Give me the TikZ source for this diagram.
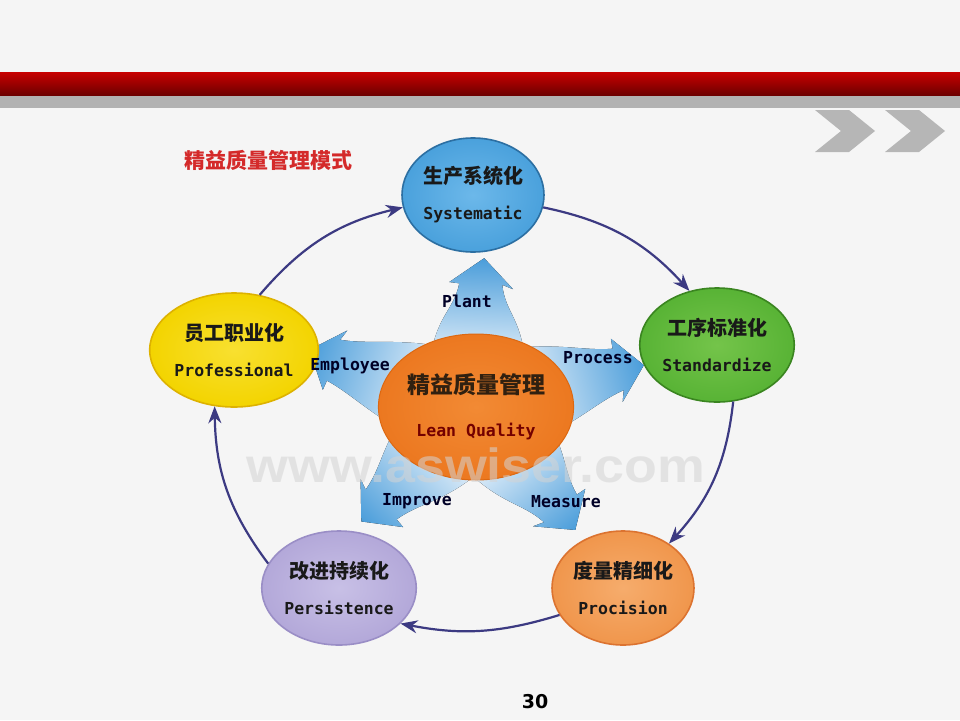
\documentclass[tikz,border=0pt]{standalone}
\usepackage{fontspec}
\usetikzlibrary{arrows.meta,shapes.geometric}
\newfontfamily\cjk{Noto Sans CJK SC}
\newfontfamily\monof{DejaVu Sans Mono}
\newfontfamily\wmfont{Liberation Sans}
\newfontfamily\numfont{DejaVu Sans}

\definecolor{slidebg}{HTML}{F5F5F5}
\definecolor{bandred}{HTML}{C80000}
\definecolor{banddark}{HTML}{6A0000}
\definecolor{bandgray}{HTML}{B2B2B2}
\definecolor{chevgray}{HTML}{B6B6B6}
\definecolor{titlered}{HTML}{D42A2A}
\definecolor{loopblue}{HTML}{3C3A82}
\definecolor{armblue}{HTML}{4A9DDA}
\definecolor{armpale}{HTML}{EEF5FC}
\definecolor{wmgray}{HTML}{D4D4D4}
% stage colours: inner, outer, rim
\definecolor{sysin}{HTML}{6CB8EA}\definecolor{sysout}{HTML}{4AA1DC}\definecolor{sysrim}{HTML}{2C6FA2}
\definecolor{stdin}{HTML}{74C44A}\definecolor{stdout}{HTML}{58B335}\definecolor{stdrim}{HTML}{3A8520}
\definecolor{prein}{HTML}{F6AC6C}\definecolor{preout}{HTML}{F0964C}\definecolor{prerim}{HTML}{DC7330}
\definecolor{perin}{HTML}{C8C0E6}\definecolor{perout}{HTML}{B3A8D9}\definecolor{perrim}{HTML}{9A8EC6}
\definecolor{yelin}{HTML}{F8E030}\definecolor{yelout}{HTML}{F3D400}\definecolor{yelrim}{HTML}{DDB200}
\definecolor{hubin}{HTML}{F28A34}\definecolor{hubout}{HTML}{EC7820}\definecolor{hubrim}{HTML}{DC6812}

% one fat blue arm of the star: direction, reach
\newcommand\leanarm[2]{%
  \begin{scope}[transform canvas={shift={(hubc)},rotate=#1}]
    \fill[left color=armpale,right color=armblue]
      (40,48) .. controls (90,44) and ({#2-55},26) .. ({#2-26},22) -- ({#2-30},33)
      -- (#2,3) -- ({#2-25},-31) -- ({#2-26},-21)
      .. controls ({#2-55},-26) and (90,-44) .. (40,-48) -- cycle;
  \end{scope}}

\begin{document}
\begin{tikzpicture}[x=1pt,y=-1pt,
  stage/.style={ellipse,line width=1.6pt,minimum width=142pt,minimum height=114pt,
    inner sep=0pt,align=center,text=black!90,font=\cjk\bfseries\fontsize{20}{36}\selectfont},
  armtext/.style={inner sep=1pt,text=black!85!blue,font=\monof\bfseries\fontsize{16.5}{20}\selectfont},
  loopline/.style={draw=loopblue,line width=2.2pt,-{Stealth[length=17pt,width=13pt]}}]
  \useasboundingbox (0,0) rectangle (960,720);
  \fill[slidebg] (0,0) rectangle (960,720);

  % header bands and chevrons
  \shade[top color=bandred,bottom color=banddark] (0,72) rectangle (960,96);
  \fill[bandgray] (0,96) rectangle (960,108);
  \foreach \cx in {815,885}
    \fill[chevgray] (\cx,110) -- (\cx+34,110) -- (\cx+60,131) -- (\cx+34,152)
      -- (\cx,152) -- (\cx+26,131) -- cycle;

  \node[text=titlered,font=\cjk\bfseries\fontsize{21}{24}\selectfont] (ttl) at (268,160) {精益质量管理模式};

  % blue star
  \coordinate (hubc) at (476,407);
  \leanarm{88}{149}
  \leanarm{15}{173}
  \leanarm{-50}{158}
  \leanarm{-134}{162}
  \leanarm{162}{176}

  \node[ellipse,minimum width=190pt,minimum height=146pt,inner sep=0pt,
    inner color=hubin,outer color=hubout,draw=hubrim,line width=1pt,
    align=center,font=\cjk\bfseries\fontsize{23}{43}\selectfont,text=black!75!brown] (hub) at (hubc)
    {精益质量管理\\{\monof\fontsize{16.5}{20}\selectfont\color{red!45!black}Lean Quality}};

  \node[anchor=base,inner sep=0pt,text height=26pt,text depth=0pt,xscale=1.12,text=wmgray,text opacity=0.55,
    font=\wmfont\bfseries\fontsize{48}{52}\selectfont] (wm) at (476,482) {www.aswiser.com};

  % five stages
  \node[stage,inner color=sysin,outer color=sysout,draw=sysrim] (sys) at (473,195)
    {生产系统化\\{\monof\fontsize{16.5}{20}\selectfont Systematic}};
  \node[stage,inner color=stdin,outer color=stdout,draw=stdrim] (std) at (717,345)
    {工序标准化\\{\monof\fontsize{16.5}{20}\selectfont Standardize}};
  \node[stage,inner color=prein,outer color=preout,draw=prerim] (pre) at (623,588)
    {度量精细化\\{\monof\fontsize{16.5}{20}\selectfont Procision}};
  \node[stage,inner color=perin,outer color=perout,draw=perrim] (per) at (339,588)
    {改进持续化\\{\monof\fontsize{16.5}{20}\selectfont Persistence}};
  \node[stage,inner color=yelin,outer color=yelout,draw=yelrim] (yel) at (234,350)
    {员工职业化\\{\monof\fontsize{16.5}{20}\selectfont Professional}};

  % the outer loop
  \draw[loopline] (yel.65) to[bend left=18] (sys.190);
  \draw[loopline] (sys.-10) to[bend left=18] (std.117);
  \draw[loopline] (std.-74) to[bend left=18] (pre.44);
  \draw[loopline] (pre.203) to[bend left=14] (per.-30);
  \draw[loopline] (per.161) to[bend left=18] (yel.251);

  \node[armtext] (plant) at (467,301) {Plant};
  \node[armtext] (proc) at (598,358) {Process};
  \node[armtext] (meas) at (566,502) {Measure};
  \node[armtext] (impr) at (417,501) {Improve};
  \node[armtext] (empl) at (350,366) {Employee};

  \node[font=\numfont\bfseries\fontsize{19}{20}\selectfont] (pnum) at (535,702) {30};
\end{tikzpicture}
\end{document}
